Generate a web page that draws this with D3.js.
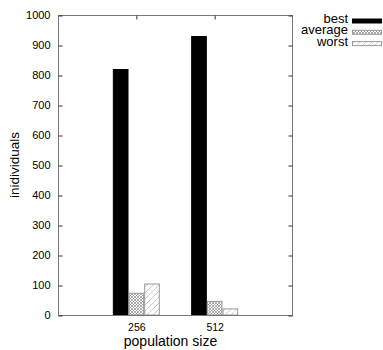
<!DOCTYPE html>
<html><head><meta charset="utf-8">
<script src="https://cdn.jsdelivr.net/npm/d3@7"></script>
<style>body{margin:0;background:#fff}svg{display:block}text{font-family:"Liberation Sans",Arial,sans-serif;fill:#000}</style>
</head><body><svg id="c" width="383" height="350"></svg>
<script>
const categories = ["256", "512"];
const seriesNames = ["best", "average", "worst"];
const best = [820, 930];
const average = [74, 47];
const worst = [105, 22];
const yTicks = [0,100,200,300,400,500,600,700,800,900,1000];

const svg = d3.select("#c");
const L = 58, R = 293, T = 15, B = 315;
const x = d3.scaleLinear().domain([-1, 2]).range([L, R]);
const y = d3.scaleLinear().domain([0, 1000]).range([B, T]);
const bw = (x(1) - x(0)) / 5;

const defs = svg.append("defs");
const cross = defs.append("pattern").attr("id","cross").attr("patternUnits","userSpaceOnUse").attr("width",3).attr("height",3);
cross.append("rect").attr("width",3).attr("height",3).attr("fill","#fff");
cross.append("path").attr("d","M0,0L3,3M3,0L0,3").attr("stroke","#888").attr("stroke-width",0.7);
const diag = defs.append("pattern").attr("id","diag").attr("patternUnits","userSpaceOnUse").attr("width",6).attr("height",6);
diag.append("rect").attr("width",6).attr("height",6).attr("fill","#fff");
diag.append("path").attr("d","M0,6L6,0M-1,1L1,-1M5,7L7,5").attr("stroke","#bbb").attr("stroke-width",0.8);

const fills = ["#000", "url(#cross)", "url(#diag)"];
const strokes = ["#000", "#999", "#999"];
const data = [best, average, worst];

// bars
data.forEach((vals, s) => {
  svg.append("g").selectAll("rect").data(vals).join("rect")
    .attr("x", (d, i) => x(i) + (s - 1.5) * bw + 0.5)
    .attr("y", d => y(d) + 0.5)
    .attr("width", bw - 1)
    .attr("height", d => y(0) - y(d) - 0.5)
    .attr("fill", fills[s]).attr("stroke", strokes[s]).attr("stroke-width", 1);
});

// frame
svg.append("rect").attr("x", L+0.5).attr("y", T+0.5).attr("width", R-L-1).attr("height", B-T)
  .attr("fill","none").attr("stroke","#777").attr("stroke-width",1);

// y axis ticks
const yg = svg.append("g").attr("transform",`translate(${L+0.5},0)`)
  .call(d3.axisLeft(y).tickValues(yTicks).tickSize(-4).tickPadding(8).tickFormat(d3.format("d")));
yg.select(".domain").remove();
yg.selectAll("line").attr("stroke","#333").attr("transform","translate(0,0.5)");
yg.selectAll("text").style("font-size","11px").attr("fill","#000");
// mirror ticks right
const yr = svg.append("g").attr("transform",`translate(${R-0.5},0)`)
  .call(d3.axisRight(y).tickValues(yTicks).tickSize(-4).tickFormat(""));
yr.select(".domain").remove();
yr.selectAll("line").attr("stroke","#333").attr("transform","translate(0,0.5)");

// x axis
const xg = svg.append("g").attr("transform",`translate(0,${B+0.5})`)
  .call(d3.axisBottom(x).tickValues([0,1]).tickSize(0).tickPadding(8).tickFormat(i => categories[i]));
xg.select(".domain").remove();
xg.selectAll("text").style("font-size","10.5px").attr("fill","#000");
const xt = svg.append("g").attr("transform",`translate(0,${T+0.5})`)
  .call(d3.axisBottom(x).tickValues([0,1]).tickSize(4).tickFormat(""));
xt.select(".domain").remove();
xt.selectAll("line").attr("stroke","#333");

// axis labels
svg.append("text").attr("x", (L+R)/2 - 5).attr("y", 345.5).attr("text-anchor","middle")
  .style("font-size","14px").text("population size");
svg.append("text").attr("transform","translate(19,165) rotate(-90)").attr("text-anchor","middle")
  .style("font-size","13.5px").text("inidividuals");

// legend
const leg = svg.append("g");
seriesNames.forEach((n, s) => {
  const cy = 21 + s * 11.3;
  leg.append("text").attr("x", 348).attr("y", cy + 2).attr("text-anchor","end")
    .style("font-size","13px").text(n);
  leg.append("rect").attr("x", 352.5).attr("y", cy - 2).attr("width", 29).attr("height", 4)
    .attr("fill", fills[s]).attr("stroke", strokes[s]).attr("stroke-width", 1);
});
</script></body></html>
